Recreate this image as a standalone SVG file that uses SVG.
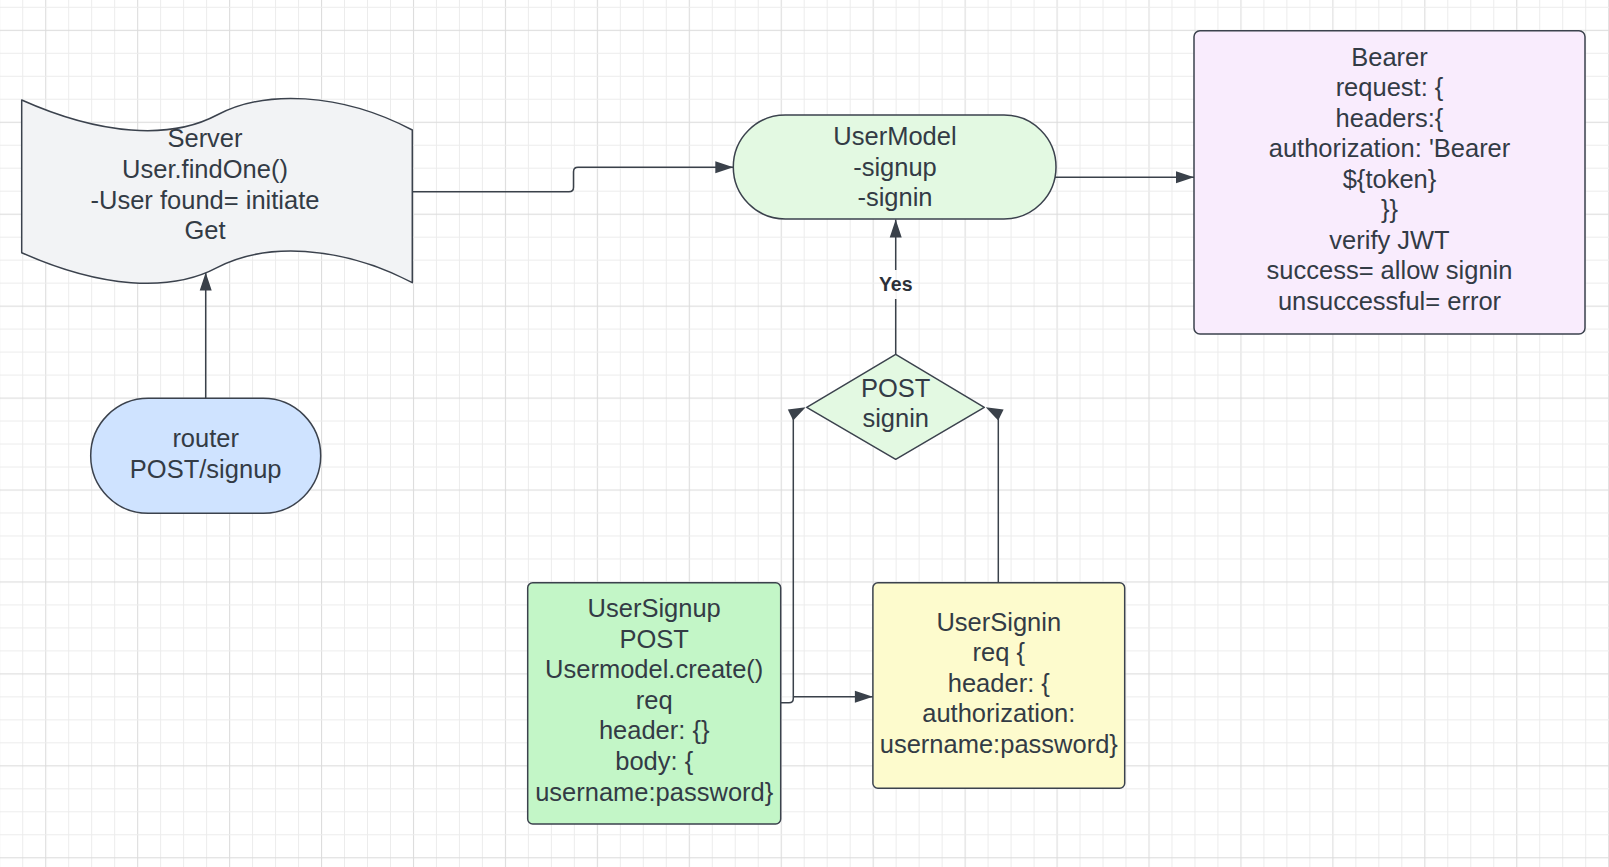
<svg xmlns="http://www.w3.org/2000/svg" width="1609" height="867" viewBox="0 0 1609 867">
<defs>
<pattern id="grid" patternUnits="userSpaceOnUse" x="45.2" y="29.8" width="91.94" height="91.94">
<rect x="0" y="0" width="1.1" height="91.94" fill="#dcdcdc"/>
<rect x="22.985" y="0" width="1" height="91.94" fill="#ececec"/>
<rect x="45.97" y="0" width="1" height="91.94" fill="#ececec"/>
<rect x="68.955" y="0" width="1" height="91.94" fill="#ececec"/>
<rect x="0" y="0" width="91.94" height="1.1" fill="#dcdcdc"/>
<rect x="0" y="22.985" width="91.94" height="1" fill="#ececec"/>
<rect x="0" y="45.97" width="91.94" height="1" fill="#ececec"/>
<rect x="0" y="68.955" width="91.94" height="1" fill="#ececec"/>
</pattern>
<marker id="arr" markerUnits="userSpaceOnUse" markerWidth="18" markerHeight="12" refX="18" refY="6" orient="auto" overflow="visible">
<path d="M0,0 L18,6 L0,12 Z" fill="#3a414a"/>
</marker>
<style>
.shape{stroke:#3b424d;stroke-width:1.5;stroke-linejoin:round}
.t{font-family:"Liberation Sans",Arial,sans-serif;font-size:25.5px;fill:#333b45;text-anchor:middle}
.conn{fill:none;stroke:#3a414a;stroke-width:1.5}
.lbl{font-family:"Liberation Sans",Arial,sans-serif;font-size:19.5px;font-weight:bold;fill:#2b3038;text-anchor:middle}
</style>
</defs>
<rect width="1609" height="867" fill="#ffffff"/>
<rect width="1609" height="867" fill="url(#grid)"/>

<g id="connectors">
<path class="conn" d="M412.3,191.7 H569 Q573.5,191.7 573.5,187.2 V171.8 Q573.5,167.3 578,167.3 H733.3" marker-end="url(#arr)"/>
<path class="conn" d="M1055,177.3 H1194" marker-end="url(#arr)"/>
<path class="conn" d="M205.7,398.3 V272.5" marker-end="url(#arr)"/>
<path class="conn" d="M895.7,354.3 V299"/>
<path class="conn" d="M895.7,270 V219.5" marker-end="url(#arr)"/>
<text class="lbl" x="895.7" y="291.3">Yes</text>
<path class="conn" d="M780.7,702.7 H789 Q793.3,702.7 793.3,698.4 V416"/>
<polygon points="805.7,407.3 787.8,409.6 793.2,420.4" fill="#3a414a"/>
<path class="conn" d="M998.3,582.7 V416"/>
<polygon points="985.7,407.3 1003.6,409.6 998.2,420.4" fill="#3a414a"/>
<path class="conn" d="M793.3,696.7 H872.9" marker-end="url(#arr)"/>
</g>

<g id="server">
<path class="shape" fill="#f2f3f5" d="M21.7,100 C100,135 170,140 217,115 C264,90 340,92 412.3,130 V282.7 C340,244.7 264,242.7 217,267.7 C170,292.7 100,287.7 21.7,252.7 Z"/>
<text class="t" x="205" y="147">Server</text>
<text class="t" x="205" y="178">User.findOne()</text>
<text class="t" x="205" y="208.5">-User found= initiate</text>
<text class="t" x="205" y="239">Get</text>
</g>

<g id="usermodel">
<rect class="shape" fill="#e3f9e2" x="733.3" y="115" width="322.7" height="104" rx="52" ry="52"/>
<text class="t" x="895" y="145">UserModel</text>
<text class="t" x="895" y="175.5">-signup</text>
<text class="t" x="895" y="206">-signin</text>
</g>

<g id="bearer">
<rect class="shape" fill="#f9ecfd" x="1194" y="30.7" width="391" height="303.3" rx="6" ry="6"/>
<text class="t" x="1389.5" y="65.7">Bearer</text>
<text class="t" x="1389.5" y="96.2">request: {</text>
<text class="t" x="1389.5" y="126.7">headers:{</text>
<text class="t" x="1389.5" y="157.2">authorization: 'Bearer</text>
<text class="t" x="1389.5" y="187.7">${token}</text>
<text class="t" x="1389.5" y="218.2">}}</text>
<text class="t" x="1389.5" y="248.7">verify JWT</text>
<text class="t" x="1389.5" y="279.2">success= allow signin</text>
<text class="t" x="1389.5" y="309.7">unsuccessful= error</text>
</g>

<g id="router">
<rect class="shape" fill="#cfe3ff" x="90.7" y="398.3" width="230" height="115" rx="57.5" ry="57.5"/>
<text class="t" x="205.7" y="447.3">router</text>
<text class="t" x="205.7" y="478.3">POST/signup</text>
</g>

<g id="post-signin">
<path class="shape" fill="#e3f9e2" d="M895.7,354.3 L984.3,407.3 L895.7,459.3 L806.7,407.3 Z"/>
<text class="t" x="895.7" y="396.7">POST</text>
<text class="t" x="895.7" y="426.7">signin</text>
</g>

<g id="usersignup">
<rect class="shape" fill="#c3f6c7" x="527.7" y="582.7" width="253" height="241.3" rx="5" ry="5"/>
<text class="t" x="654.2" y="617">UserSignup</text>
<text class="t" x="654.2" y="647.6">POST</text>
<text class="t" x="654.2" y="678.2">Usermodel.create()</text>
<text class="t" x="654.2" y="708.8">req</text>
<text class="t" x="654.2" y="739.4">header: {}</text>
<text class="t" x="654.2" y="770">body: {</text>
<text class="t" x="654.2" y="800.6">username:password}</text>
</g>

<g id="usersignin">
<rect class="shape" fill="#fdfbcd" x="872.9" y="582.7" width="251.8" height="205.6" rx="5" ry="5"/>
<text class="t" x="998.8" y="630.5">UserSignin</text>
<text class="t" x="998.8" y="661.1">req {</text>
<text class="t" x="998.8" y="691.7">header: {</text>
<text class="t" x="998.8" y="722.3">authorization:</text>
<text class="t" x="998.8" y="752.9">username:password}</text>
</g>
</svg>
